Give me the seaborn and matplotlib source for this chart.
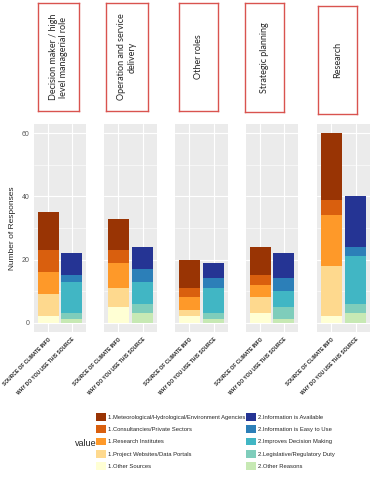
import numpy as np
import pandas as pd
import seaborn as sns
import matplotlib.pyplot as plt
from matplotlib.patches import Patch

# roles (one facet per role)
roles = ["Decision maker / high\nlevel managerial role",
         "Operation and service\ndelivery",
         "Other roles",
         "Strategic planning",
         "Research"]

questions = ["SOURCE OF CLIMATE INFO", "WHY DO YOU USE THIS SOURCE"]

# legend order = top of stack first
source_labels = ["1.Meteorological/Hydrological/Environment Agencies",
                 "1.Consultancies/Private Sectors",
                 "1.Research Institutes",
                 "1.Project Websites/Data Portals",
                 "1.Other Sources"]
reason_labels = ["2.Information is Available",
                 "2.Information is Easy to Use",
                 "2.Improves Decision Making",
                 "2.Legislative/Regulatory Duty",
                 "2.Other Reasons"]

source_colors = ["#993404", "#D95F0E", "#FE9929", "#FED98E", "#FFFFD4"]
reason_colors = ["#253494", "#2C7FB8", "#41B6C4", "#7FCDBB", "#C7E9B4"]

# counts per role, same order as the labels above
source_counts = [[12, 7, 7, 7, 2],
                 [10, 4, 8, 6, 5],
                 [9, 3, 4, 2, 2],
                 [9, 3, 4, 5, 3],
                 [21, 5, 16, 16, 2]]
reason_counts = [[7, 2, 10, 2, 1],
                 [7, 4, 7, 3, 3],
                 [5, 3, 8, 2, 1],
                 [8, 4, 5, 4, 1],
                 [16, 3, 15, 3, 3]]

sns.set_theme(style="darkgrid", rc={"axes.facecolor": "#EBEBEB",
                                     "grid.color": "white"})
plt.rcParams["font.family"] = ["Liberation Sans", "DejaVu Sans"]

fig = plt.figure(figsize=(3.77, 4.8), dpi=100)
W, H = 377, 480

def fx(px):
    return px / W

def fy(py):
    return 1 - py / H

panel_x = [(34, 86), (104, 157), (175, 228), (246, 298), (317, 370)]
box_pos = [(38, 3, 79, 111), (106, 3, 148, 111), (179, 3, 218, 111),
           (245, 3, 284, 112), (318, 6, 357, 114)]

for i, role in enumerate(roles):
    x0, x1 = panel_x[i]
    ax = fig.add_axes([fx(x0), fy(332), fx(x1 - x0), (332 - 124) / H])

    # overlay cumulative heights, tallest first -> stacked look
    src = np.array(source_counts[i])
    why = np.array(reason_counts[i])
    for k in range(5):
        df = pd.DataFrame({"question": questions,
                           "n": [src[k:].sum(), why[k:].sum()]})
        sns.barplot(data=df, x="question", y="n", hue="question",
                    palette=[source_colors[k], reason_colors[k]],
                    order=questions, hue_order=questions, legend=False,
                    width=0.9, saturation=1, linewidth=0, errorbar=None, ax=ax)

    ax.set_xlim(-0.6, 1.6)
    ax.set_ylim(-3, 63)
    ax.set_yticks([0, 20, 40, 60])
    ax.set_yticks([10, 30, 50], minor=True)
    ax.grid(True, which="major", color="white", lw=0.8)
    ax.grid(True, which="minor", color="white", lw=0.4)
    ax.set_axisbelow(True)
    for s in ax.spines.values():
        s.set_visible(False)
    ax.set_xlabel("")
    ax.set_xticks([0, 1])
    ax.set_xticklabels(questions, rotation=45, ha="right", va="top",
                       rotation_mode="anchor", fontsize=3.55,
                       fontweight="bold", color="#222222")
    ax.tick_params(axis="x", length=2, width=0.5, color="#555555", pad=1.2)
    if i == 0:
        ax.tick_params(axis="y", length=2, width=0.5, color="#555555",
                       labelsize=5, labelcolor="#555555", pad=1.5)
        ax.set_ylabel("Number of Responses", fontsize=6, color="#222222",
                      labelpad=4)
    else:
        ax.set_yticklabels([])
        ax.tick_params(axis="y", length=0)
        ax.set_ylabel("")

    # red framed role title
    bx0, by0, bx1, by1 = box_pos[i]
    tax = fig.add_axes([fx(bx0), fy(by1), fx(bx1 - bx0), (by1 - by0) / H])
    tax.set_facecolor("white")
    tax.set_xticks([])
    tax.set_yticks([])
    tax.grid(False)
    for s in tax.spines.values():
        s.set_visible(True)
        s.set_color("#D9534F")
        s.set_linewidth(1.0)
    tax.text(0.5, 0.5, role, rotation=90, ha="center", va="center",
             fontsize=6.5, family=["Lato", "DejaVu Sans"],
             multialignment="center", linespacing=1.25,
             transform=tax.transAxes)

# legend
handles = [Patch(facecolor=c, edgecolor="none") for c in source_colors + reason_colors]
labels = source_labels + reason_labels
fig.legend(handles, labels, ncol=2, loc="upper left",
           bbox_to_anchor=(fx(96), fy(413)), frameon=False, fontsize=4.2,
           handlelength=1.7, handleheight=1.7, labelspacing=0.75,
           handletextpad=0.35, columnspacing=0.1, borderpad=0,
           borderaxespad=0)
fig.text(fx(75), fy(443), "value", fontsize=6.5, va="center", color="#222222")

fig.savefig("out.png", dpi=100)
